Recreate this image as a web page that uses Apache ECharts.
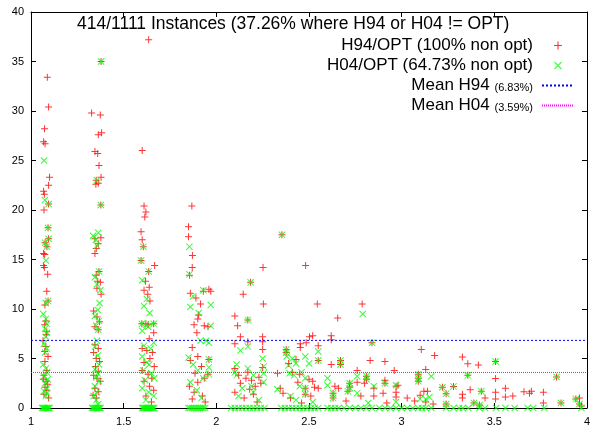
<!DOCTYPE html>
<html>
<head>
<meta charset="utf-8">
<script src="https://cdn.jsdelivr.net/npm/echarts@6/dist/echarts.min.js"></script>
<style>html,body{margin:0;padding:0;background:#fff}#c{width:593px;height:431px}</style>
</head>
<body>
<div id="c"></div>
<script>
const chartTitle = "414/1111 Instances (37.26% where H94 or H04 != OPT)";
const seriesNames = ["H94/OPT (100% non opt)", "H04/OPT (64.73% non opt)", "Mean H94 (6.83%)", "Mean H04 (3.59%)"];
const meanH94 = 6.83;
const meanH04 = 3.59;
const xRange = [1, 4];
const yRange = [0, 40];

const h94Points = [
[1.088,33.4],[1.095,30.4],[1.073,28.2],[1.068,26.9],[1.076,26.7],[1.10,23.3],[1.095,22.5],[1.068,21.9],[1.072,21.6],[1.07,20.0],[1.095,20.6],[1.092,18.2],[1.095,17.1],[1.076,16.7],[1.086,16.3],[1.068,15.6],[1.074,15.5],[1.068,14.4],[1.072,14.2],[1.09,13.5],[1.085,11.8],[1.075,10.4],[1.092,10.8],[1.08,8.8],[1.074,8.4],[1.085,7.7],[1.082,7.4],[1.065,6.8],[1.08,6.2],[1.074,5.7],[1.092,5.2],[1.075,4.7],[1.085,3.8],[1.07,3.3],[1.066,2.9],[1.082,2.7],[1.09,2.4],[1.076,2.1],[1.095,1.0],[1.085,1.8],[1.07,1.4],
[1.327,29.8],[1.374,29.6],[1.363,27.6],[1.381,27.8],[1.345,25.9],[1.36,25.7],[1.367,24.5],[1.378,23.3],[1.352,23.0],[1.350,22.6],[1.363,22.7],[1.378,35.0],[1.377,20.5],[1.345,17.1],[1.377,17.2],[1.363,16.6],[1.352,16.1],[1.345,15.6],[1.367,13.8],[1.352,13.4],[1.36,12.8],[1.374,12.7],[1.356,12.1],[1.378,11.5],[1.338,9.8],[1.356,9.2],[1.37,8.7],[1.345,8.2],[1.363,7.9],[1.345,6.4],[1.363,6.0],[1.338,5.6],[1.352,5.0],[1.37,4.7],[1.348,4.2],[1.363,3.7],[1.338,3.3],[1.356,3.0],[1.374,2.7],[1.345,2.0],[1.363,1.65],[1.335,1.3],[1.352,1.0],
[1.635,37.2],[1.60,26.0],[1.61,20.4],[1.62,19.8],[1.614,19.3],[1.594,17.8],[1.60,17.0],[1.606,16.3],[1.594,14.9],[1.635,13.8],[1.667,14.4],[1.618,12.8],[1.638,12.2],[1.61,11.9],[1.63,11.5],[1.642,10.8],[1.598,8.5],[1.62,8.5],[1.632,8.4],[1.662,8.5],[1.662,7.6],[1.638,7.0],[1.60,6.0],[1.625,5.8],[1.655,5.6],[1.642,5.0],[1.61,4.6],[1.665,4.2],[1.60,3.8],[1.632,3.4],[1.652,3.0],[1.61,2.7],[1.64,2.2],[1.662,1.8],[1.62,1.2],[1.65,0.6],
[1.868,20.4],[1.85,18.3],[1.85,17.3],[1.871,15.4],[1.87,14.2],[1.855,13.4],[1.86,11.6],[1.89,11.1],[1.93,11.8],[1.97,11.8],[1.915,10.5],[1.905,9.4],[1.90,9.0],[1.88,8.4],[1.935,8.3],[1.895,7.6],[1.96,12.0],[1.955,8.2],[1.87,6.1],[1.90,5.2],[1.86,4.8],[1.92,4.2],[1.885,3.5],[1.935,3.0],[1.90,2.6],[1.855,2.2],[1.88,1.6],[1.925,1.2],[1.94,0.6],[1.87,0.9],[1.96,4.9],[1.955,3.4],
[2.10,9.3],[2.115,8.3],[2.17,8.9],[2.145,11.5],[2.185,12.7],[2.252,14.2],[2.254,10.5],[2.13,7.2],[2.25,7.2],[2.10,6.5],[2.17,6.7],[2.25,6.7],[2.25,5.9],[2.10,4.0],[2.12,3.3],[2.17,3.6],[2.16,3.0],[2.19,2.8],[2.21,2.2],[2.13,2.5],[2.18,1.9],[2.20,1.4],[2.10,1.6],[2.23,3.1],[2.25,4.1],[2.15,1.0],[2.22,0.6],[2.24,2.5],
[2.354,17.5],[2.482,14.4],[2.545,10.5],[2.503,7.2],[2.52,7.3],[2.485,6.6],[2.453,6.5],[2.453,6.1],[2.377,5.9],[2.377,5.6],[2.55,6.3],[2.55,4.8],[2.39,4.5],[2.43,4.9],[2.41,3.6],[2.45,3.4],[2.44,2.6],[2.50,2.9],[2.52,2.7],[2.53,2.1],[2.55,2.0],[2.48,2.0],[2.48,1.4],[2.40,1.0],[2.46,0.5],[2.345,2.0],[2.33,3.5],[2.36,1.5],[2.51,1.2],
[2.62,7.3],[2.62,6.9],[2.655,9.1],[2.787,10.5],[2.62,4.4],[2.67,4.8],[2.67,4.4],[2.84,6.6],[2.83,4.8],[2.91,4.7],[2.76,3.8],[2.81,3.2],[2.81,2.9],[2.96,3.8],[2.64,2.2],[2.66,2.0],[2.72,2.5],[2.72,2.1],[2.76,2.6],[2.80,2.5],[2.85,2.0],[2.91,2.8],[2.91,2.5],[2.97,2.2],[2.97,1.6],[2.97,1.1],[2.98,2.3],[2.63,1.5],[2.63,1.0],[2.71,1.7],[2.85,1.2],[2.70,0.7],[2.92,0.5],[2.78,1.2],[2.90,1.5],
[3.106,5.9],[3.178,5.3],[3.13,3.9],[3.09,3.4],[3.09,3.0],[3.09,2.7],[3.12,1.7],[3.14,1.7],[3.22,2.1],[3.03,1.0],[3.07,0.7],[3.10,1.3],[3.13,0.6],[3.24,1.45],[3.24,0.4],[3.28,2.18],[3.17,0.4],
[3.328,5.15],[3.357,4.47],[3.414,4.34],[3.507,4.7],[3.357,3.3],[3.507,2.97],[3.836,3.13],[3.328,1.4],[3.328,1.0],[3.37,1.85],[3.43,1.7],[3.45,1.0],[3.507,1.58],[3.507,0.9],[3.56,2.0],[3.56,1.1],[3.60,1.2],[3.66,1.65],[3.69,1.5],[3.70,1.7],[3.765,1.6],[3.765,0.5],[3.39,0.5],[3.42,0.3],[3.86,0.5],[3.94,0.9],[3.96,1.0],[3.96,0.4],[3.97,0.2]
];

const h04Points = [
[1.07,25.0],[1.075,21.0],[1.095,20.6],[1.092,18.2],[1.095,17.1],[1.076,16.7],[1.086,16.3],[1.08,14.9],[1.092,10.8],[1.08,10.6],[1.066,9.5],[1.08,9.0],[1.086,8.5],[1.076,8.0],[1.086,7.6],[1.08,7.2],[1.07,6.5],[1.086,6.0],[1.076,5.6],[1.066,4.4],[1.08,4.0],[1.086,3.6],[1.07,3.2],[1.09,2.9],[1.076,2.5],[1.086,2.0],[1.07,1.7],[1.086,1.5],[1.08,1.2],[1.06,0],[1.065,0],[1.07,0],[1.075,0],[1.08,0],[1.085,0],[1.09,0],[1.095,0],[1.1,0],
[1.378,35.0],[1.377,20.5],[1.356,23.0],[1.335,17.4],[1.363,17.7],[1.35,17.0],[1.356,16.4],[1.367,13.8],[1.345,13.2],[1.356,12.5],[1.374,11.9],[1.37,10.6],[1.36,9.9],[1.345,9.3],[1.367,8.8],[1.352,8.3],[1.363,7.9],[1.356,6.8],[1.345,6.2],[1.36,5.3],[1.367,4.4],[1.345,3.9],[1.36,3.5],[1.352,3.1],[1.367,2.7],[1.345,2.2],[1.356,1.6],[1.338,1.2],[1.352,0.8],[1.363,0.4],[1.33,0],[1.335,0],[1.34,0],[1.345,0],[1.35,0],[1.355,0],[1.36,0],[1.365,0],[1.37,0],[1.375,0],
[1.606,16.3],[1.594,14.9],[1.635,13.8],[1.60,12.9],[1.625,11.0],[1.61,10.3],[1.64,9.6],[1.598,8.5],[1.62,8.4],[1.632,8.2],[1.662,8.5],[1.60,7.8],[1.662,6.6],[1.61,6.3],[1.645,6.0],[1.60,5.2],[1.625,4.6],[1.638,4.4],[1.605,3.8],[1.65,3.5],[1.665,3.0],[1.615,2.8],[1.60,2.0],[1.635,1.6],[1.662,1.2],[1.62,0.8],[1.60,0],[1.605,0],[1.61,0],[1.615,0],[1.62,0],[1.625,0],[1.63,0],[1.635,0],[1.64,0],[1.645,0],[1.65,0],[1.655,0],[1.66,0],[1.665,0],
[1.855,16.3],[1.855,13.5],[1.875,11.3],[1.86,10.2],[1.97,10.4],[1.905,9.6],[1.97,8.3],[1.93,11.9],[1.915,6.8],[1.945,6.8],[1.96,6.6],[1.96,4.9],[1.96,4.1],[1.96,3.4],[1.85,5.1],[1.875,4.4],[1.90,3.8],[1.93,3.0],[1.86,2.6],[1.895,1.8],[1.92,1.0],[1.85,0],[1.86,0],[1.87,0],[1.88,0],[1.89,0],[1.90,0],[1.91,0],[1.92,0],[1.93,0],[1.94,0],
[2.17,8.9],[2.185,12.7],[2.17,6.2],[2.25,5.0],[2.13,5.8],[2.11,4.4],[2.10,3.6],[2.11,3.3],[2.17,4.0],[2.20,3.3],[2.255,4.2],[2.255,3.5],[2.19,2.2],[2.255,2.6],[2.14,2.0],[2.20,1.6],[2.12,1.2],[2.23,0.8],[2.08,0],[2.10,0],[2.12,0],[2.14,0],[2.16,0],[2.18,0],[2.20,0],[2.22,0],[2.24,0],[2.26,0],
[2.354,17.5],[2.377,5.9],[2.377,5.6],[2.38,5.2],[2.39,4.3],[2.41,5.0],[2.43,4.5],[2.395,3.5],[2.42,3.3],[2.46,3.6],[2.48,5.2],[2.50,4.5],[2.55,4.8],[2.55,5.7],[2.48,3.0],[2.48,2.0],[2.48,1.4],[2.45,2.2],[2.40,1.2],[2.43,0.8],[2.33,1.9],[2.52,0.6],[2.35,0],[2.37,0],[2.39,0],[2.41,0],[2.43,0],[2.45,0],[2.47,0],[2.49,0],[2.51,0],[2.53,0],[2.55,0],
[2.79,9.5],[2.84,6.6],[2.67,4.8],[2.67,4.4],[2.60,3.0],[2.60,2.3],[2.72,2.5],[2.72,2.0],[2.76,3.2],[2.81,3.2],[2.81,2.9],[2.85,2.2],[2.76,1.5],[2.63,1.5],[2.63,1.0],[2.71,1.7],[2.97,2.3],[2.91,2.5],[2.97,0.6],[2.82,0.5],[2.60,0],[2.62,0],[2.64,0],[2.66,0],[2.69,0],[2.72,0],[2.75,0],[2.78,0],[2.81,0],[2.84,0],[2.88,0],[2.91,0],[2.94,0],[2.97,0],[3.0,0],
[3.09,3.4],[3.09,3.0],[3.16,3.2],[3.09,2.7],[3.15,1.1],[3.10,0.9],[3.13,0.9],[3.22,2.1],[3.24,1.45],[3.24,0.4],[3.28,2.18],[3.03,0],[3.06,0],[3.09,0],[3.11,0],[3.13,0],[3.16,0],[3.24,0],[3.28,0],
[3.357,3.3],[3.507,4.7],[3.836,3.13],[3.43,1.7],[3.39,0.5],[3.42,0.3],[3.86,0.5],[3.94,0.9],[3.96,0.4],[3.31,0],[3.33,0],[3.36,0],[3.42,0],[3.45,0],[3.51,0],[3.56,0],[3.61,0],[3.68,0],[3.71,0],[3.77,0],[3.97,0]
];

const PLUS = 'path://M3,0h1v7h-1z M0,3h7v1h-7z';
const CROSS = 'path://M0,0.7L0.7,0L7,6.3L6.3,7Z M6.3,0L7,0.7L0.7,7L0,6.3Z';
const FONT = '"Liberation Sans", Arial, sans-serif';

const chart = echarts.init(document.getElementById('c'), null, {renderer: 'canvas'});
const axisCommon = {
  type: 'value',
  axisLine: {show: true, onZero: false, lineStyle: {color: '#000', width: 1}},
  axisTick: {show: true, inside: true, length: 5, lineStyle: {color: '#000'}},
  splitLine: {show: false},
  axisLabel: {color: '#000', fontSize: 11, fontFamily: FONT}
};
chart.setOption({
  animation: false,
  backgroundColor: '#fff',
  title: {
    text: chartTitle, left: 77, top: 15, padding: 0,
    textStyle: {fontSize: 17.5, fontWeight: 'normal', color: '#000', fontFamily: FONT}
  },
  legend: {
    orient: 'vertical', right: 18, top: 37, padding: 0, align: 'right',
    itemWidth: 32, itemHeight: 8, itemGap: 3, symbolKeepAspect: true,
    data: [
      {name: seriesNames[0], icon: PLUS},
      {name: seriesNames[1], icon: CROSS},
      {name: seriesNames[2], itemStyle: {opacity: 0}},
      {name: seriesNames[3], itemStyle: {opacity: 0}}
    ],
    formatter: function (n) {
      const m = n.match(/^(.*) (\([\d.]+%\))$/);
      if (m && n.indexOf('Mean') === 0) return m[1] + ' {s|' + m[2] + '}';
      return n;
    },
    textStyle: {fontSize: 17, color: '#000', fontFamily: FONT, padding: [0, 4, 0, 0],
      rich: {s: {fontSize: 11, color: '#000', fontFamily: FONT, padding: [4, 0, 0, 0]}}}
  },
  grid: {left: 31, right: 3, top: 12, bottom: 23, containLabel: false},
  xAxis: [
    Object.assign({}, axisCommon, {min: xRange[0], max: xRange[1], interval: 0.5, position: 'bottom',
      axisLabel: Object.assign({}, axisCommon.axisLabel, {margin: 8})}),
    Object.assign({}, axisCommon, {min: xRange[0], max: xRange[1], interval: 0.5, position: 'top',
      axisLabel: {show: false}})
  ],
  yAxis: [
    Object.assign({}, axisCommon, {min: yRange[0], max: yRange[1], interval: 5, position: 'left',
      axisLabel: Object.assign({}, axisCommon.axisLabel, {margin: 7})}),
    Object.assign({}, axisCommon, {min: yRange[0], max: yRange[1], interval: 5, position: 'right',
      axisLabel: {show: false}})
  ],
  series: [
    {name: seriesNames[0], type: 'scatter', symbol: PLUS, symbolSize: 7, data: h94Points,
      itemStyle: {color: '#ff0000'}, clip: false},
    {name: seriesNames[1], type: 'scatter', symbol: CROSS, symbolSize: 7, data: h04Points,
      itemStyle: {color: '#00ff00'}, clip: false},
    {name: seriesNames[2], type: 'line', symbol: 'none', showSymbol: false, data: [[xRange[0], meanH94], [xRange[1], meanH94]],
      lineStyle: {color: '#0000ff', width: 1, type: [2, 2]}, itemStyle: {color: '#0000ff'}},
    {name: seriesNames[3], type: 'line', symbol: 'none', showSymbol: false, data: [[xRange[0], meanH04], [xRange[1], meanH04]],
      lineStyle: {color: '#ff00ff', width: 1, type: [1, 1]}, itemStyle: {color: '#ff00ff'}}
  ]
});
</script>
</body>
</html>
